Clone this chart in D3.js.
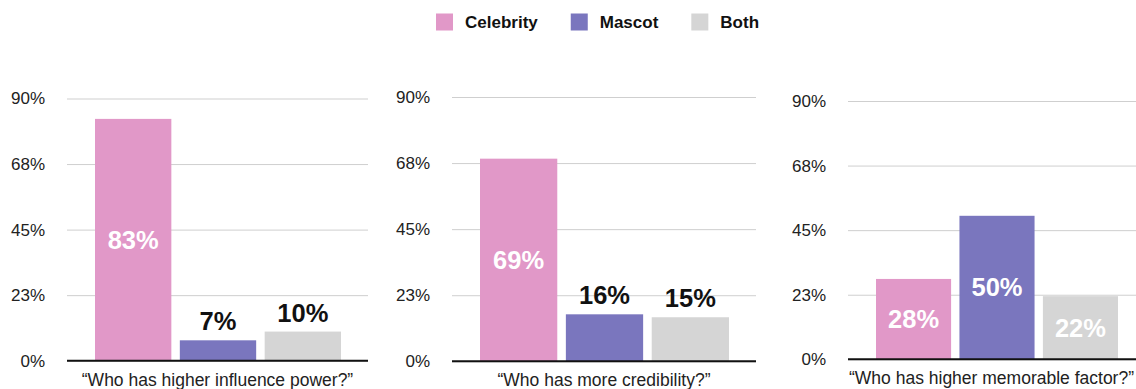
<!DOCTYPE html>
<html>
<head>
<meta charset="utf-8">
<script src="https://cdn.jsdelivr.net/npm/d3@7"></script>
<style>
  html, body { margin: 0; padding: 0; background: #fff; }
  svg { display: block; font-family: "Liberation Sans", Arial, Helvetica, sans-serif; }
</style>
</head>
<body>
<svg id="chart" width="1136" height="389"></svg>
<script>
// Survey answers, in percent
const series = ["Celebrity", "Mascot", "Both"];
const questions = [
  "\u201cWho has higher influence power?\u201d",
  "\u201cWho has more credibility?\u201d",
  "\u201cWho has higher memorable factor?\u201d"
];
const celebrityValues = [83, 69, 28];
const mascotValues = [7, 16, 50];
const bothValues = [10, 15, 22];
const yTicks = [0, 22.5, 45, 67.5, 90];
const yMax = 90;

const colors = { Celebrity: "#e198c8", Mascot: "#7a76be", Both: "#d5d5d5" };
const width = 1136;

// Plot frames of the three small multiples
const frames = [
  { left: 67,  right: 368,  top: 98.5,  bottom: 360.7 },
  { left: 452, right: 756,  top: 97,    bottom: 361.3 },
  { left: 848, right: 1145, top: 101,   bottom: 359.3 }
];

const svg = d3.select("#chart");

questions.forEach((q, i) => {
  const f = frames[i];
  const rows = [
    { key: "Celebrity", value: celebrityValues[i] },
    { key: "Mascot", value: mascotValues[i] },
    { key: "Both", value: bothValues[i] }
  ];

  const y = d3.scaleLinear().domain([0, yMax]).range([f.bottom, f.top]);
  const x = d3.scaleBand().domain(series)
    .range([f.left + 28, f.right - 27])
    .paddingInner(0.1).paddingOuter(0);

  const g = svg.append("g");

  // gridlines + tick labels
  const yAxis = d3.axisLeft(y)
    .tickValues(yTicks)
    .tickSize(-(f.right - f.left))
    .tickPadding(22)
    .tickFormat(d => Math.round(d) + "%");

  const ax = g.append("g")
    .attr("transform", `translate(${f.left},0)`)
    .call(yAxis);
  ax.select(".domain").remove();
  ax.selectAll(".tick line").attr("stroke", "#cfcfcf").attr("stroke-width", 1);
  ax.selectAll(".tick text")
    .attr("fill", "#222")
    .style("font-size", "17px")
    .style("font-family", "\"Liberation Sans\", Arial, sans-serif");

  // bars
  g.selectAll("rect.bar").data(rows).join("rect")
    .attr("class", "bar")
    .attr("x", d => x(d.key))
    .attr("width", x.bandwidth())
    .attr("y", d => y(d.value))
    .attr("height", d => y(0) - y(d.value))
    .attr("fill", d => colors[d.key]);

  // value labels: inside for tall bars, above for short ones
  g.selectAll("text.val").data(rows).join("text")
    .attr("class", "val")
    .attr("x", d => x(d.key) + x.bandwidth() / 2)
    .attr("y", d => d.value >= 20 ? (y(d.value) + y(0)) / 2 : y(d.value) - 10)
    .attr("dy", d => d.value >= 20 ? "0.35em" : null)
    .attr("text-anchor", "middle")
    .attr("fill", d => d.value >= 20 ? "#fff" : "#111")
    .style("font-size", "25.5px")
    .style("font-weight", "bold")
    .text(d => d.value + "%");

  // baseline
  g.append("line")
    .attr("x1", f.left).attr("x2", f.right)
    .attr("y1", y(0)).attr("y2", y(0))
    .attr("stroke", "#111").attr("stroke-width", 2);

  // question label, kept inside the drawing area
  const label = g.append("text")
    .attr("y", f.bottom + 25)
    .attr("text-anchor", "middle")
    .attr("fill", "#222")
    .style("font-size", "17.5px")
    .text(q);
  const half = label.node().getComputedTextLength() / 2;
  const cx = Math.min((f.left + f.right) / 2, width - 2 - half);
  label.attr("x", cx);
});

// legend
const legend = svg.append("g").attr("transform", "translate(436,0)");
let lx = 0;
series.forEach(s => {
  const item = legend.append("g").attr("transform", `translate(${lx},0)`);
  item.append("rect")
    .attr("x", 0).attr("y", 13.5)
    .attr("width", 17).attr("height", 17)
    .attr("fill", colors[s]);
  const t = item.append("text")
    .attr("x", 29).attr("y", 22)
    .attr("dy", "0.35em")
    .attr("fill", "#111")
    .style("font-size", "17px")
    .style("font-weight", "bold")
    .text(s);
  lx += 29 + t.node().getComputedTextLength() + 33;
});
</script>
</body>
</html>
